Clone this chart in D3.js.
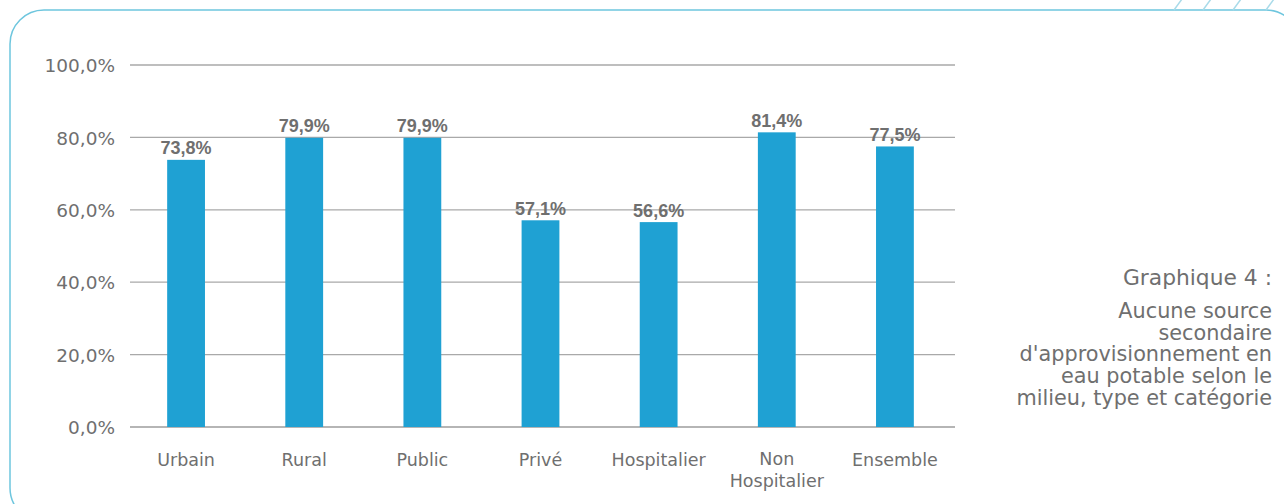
<!DOCTYPE html>
<html lang="fr">
<head>
<meta charset="utf-8">
<script src="https://cdn.jsdelivr.net/npm/d3@7"></script>
<style>
  html, body { margin: 0; padding: 0; background: #fff; }
  svg { display: block; font-family: "DejaVu Sans", sans-serif; }
</style>
</head>
<body>
<svg id="chart" width="1284" height="504"></svg>
<script>
// Catégories (axe horizontal) — une étiquette peut tenir sur plusieurs lignes
const categories = ["Urbain", "Rural", "Public", "Privé", "Hospitalier", "Non Hospitalier", "Ensemble"];
const categoryLines = [["Urbain"], ["Rural"], ["Public"], ["Privé"], ["Hospitalier"], ["Non", "Hospitalier"], ["Ensemble"]];
// Part des établissements sans source secondaire (%)
const values = [73.8, 79.9, 79.9, 57.1, 56.6, 81.4, 77.5];
// Graduations de l'axe vertical
const yTicks = [0, 20, 40, 60, 80, 100];
const titleText = "Graphique 4 :";
const captionLines = ["Aucune source", "secondaire", "d'approvisionnement en", "eau potable selon le", "milieu, type et catégorie"];

const svg = d3.select("#chart");
const fr = v => v.toFixed(1).replace(".", ",") + "%";
const textGray = "#6f6f6f";

// Cadre arrondi et hachures décoratives
const frameColor = "#6ec6de";
svg.append("rect")
  .attr("x", 10).attr("y", 10)
  .attr("width", 1290).attr("height", 512)
  .attr("rx", 34).attr("ry", 34)
  .attr("fill", "none").attr("stroke", frameColor).attr("stroke-width", 1.5);
const hatch = [1174, 1203, 1233, 1266];
svg.append("g").selectAll("line").data(hatch).join("line")
  .attr("x1", d => d).attr("y1", 10)
  .attr("x2", d => d + 8).attr("y2", -1)
  .attr("stroke", "#a9dbe9").attr("stroke-width", 1.5);

// Échelles
const x = d3.scaleBand().domain(categories).range([127, 954]).paddingInner(0.68).paddingOuter(0.34);
const y = d3.scaleLinear().domain([0, 100]).range([427, 65]);

// Quadrillage horizontal
const grid = svg.append("g");
grid.selectAll("line").data(yTicks).join("line")
  .attr("x1", 130).attr("x2", 955)
  .attr("y1", d => y(d)).attr("y2", d => y(d))
  .attr("stroke", d => d === 0 ? "#b5b5b5" : "#a9a9a9")
  .attr("stroke-width", d => d === 0 ? 2 : 1.3);

// Axe vertical (étiquettes seules)
const yAxis = d3.axisLeft(y).tickValues(yTicks).tickFormat(fr).tickSize(0).tickPadding(0);
const yg = svg.append("g").attr("transform", "translate(115,0)").call(yAxis);
yg.select(".domain").remove();
yg.selectAll("text")
  .attr("fill", textGray).attr("font-size", 18.5)
  .attr("font-family", "DejaVu Sans, sans-serif").attr("dy", "0.36em");

// Barres
svg.append("g").selectAll("rect").data(values).join("rect")
  .attr("x", (d, i) => x(categories[i]))
  .attr("width", x.bandwidth())
  .attr("y", d => y(d))
  .attr("height", d => y(0) - y(d))
  .attr("fill", "#1fa1d3");

// Valeurs au-dessus des barres
svg.append("g").selectAll("text").data(values).join("text")
  .attr("x", (d, i) => x(categories[i]) + x.bandwidth() / 2)
  .attr("y", d => y(d) - 5.5)
  .attr("text-anchor", "middle")
  .attr("font-family", "'Liberation Sans', Arial, sans-serif")
  .attr("font-size", 18).attr("font-weight", 700)
  .attr("fill", textGray)
  .text(fr);

// Étiquettes de catégories
const xl = svg.append("g").selectAll("text").data(categories).join("text")
  .attr("x", d => x(d) + x.bandwidth() / 2)
  .attr("y", 466)
  .attr("text-anchor", "middle")
  .attr("font-size", 17.5)
  .attr("fill", textGray);
xl.each(function (d, i) {
  d3.select(this).selectAll("tspan").data(categoryLines[i]).join("tspan")
    .attr("x", x(d) + x.bandwidth() / 2)
    .attr("dy", (t, j) => j === 0 ? (categoryLines[i].length > 1 ? -1 : 0) : 22)
    .text(t => t);
});

// Titre et légende à droite
svg.append("text")
  .attr("x", 1272).attr("y", 285)
  .attr("text-anchor", "end")
  .attr("font-size", 21.8)
  .attr("fill", textGray)
  .text(titleText);
svg.append("g").selectAll("text").data(captionLines).join("text")
  .attr("x", 1272)
  .attr("y", (d, i) => 318 + i * 21.7)
  .attr("text-anchor", "end")
  .attr("font-size", 20.8)
  .attr("fill", textGray)
  .text(d => d);
</script>
</body>
</html>
